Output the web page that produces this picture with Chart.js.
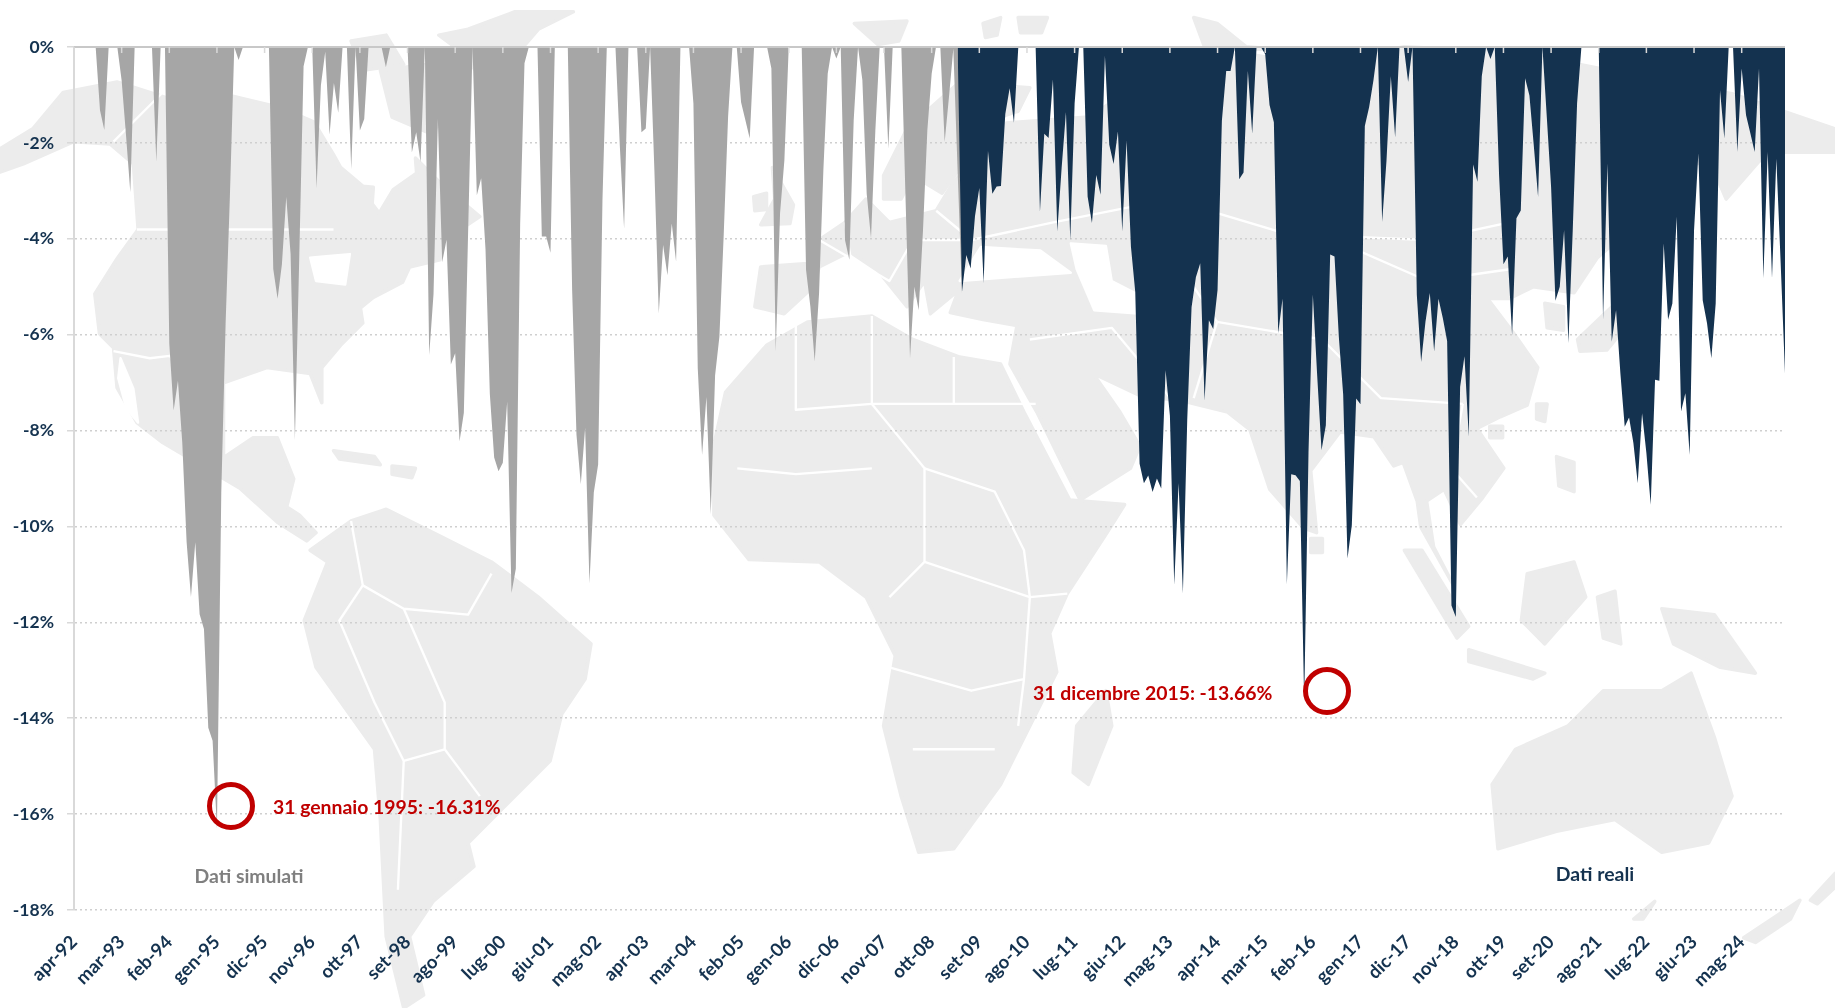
<!DOCTYPE html>
<html lang="it">
<head>
<meta charset="utf-8">
<title>Drawdown</title>
<script src="https://cdn.jsdelivr.net/npm/chart.js@4"></script>
<style>
    html, body { margin: 0; padding: 0; background: #fff; overflow: hidden; }
    #wrap { position: relative; width: 1835px; height: 1008px; }
    #map { position: absolute; left: 0; top: 0; width: 1835px; height: 1008px; }
    #chart { position: absolute; left: 0; top: 0; }
    #map .land { fill: #ececec; stroke: #ececec; stroke-width: 3; stroke-linejoin: round; }
    #map .sea { fill: #fff; stroke: #fff; stroke-width: 2; stroke-linejoin: round; }
    #map .border { fill: none; stroke: #fff; stroke-width: 2; stroke-linejoin: round; }
</style>
</head>
<body>
<div id="wrap">
    <!-- sfondo decorativo: mappa del mondo semplificata -->
    <svg id="map" viewBox="0 0 1568 861" preserveAspectRatio="none">
        <g class="land">
            <path class="land" d="M0,127 L28,110 L54,79 L100,70 L150,86 L190,80 L240,92 L268,104 L285,132 L291,143 L310,159 L319,160 L318,174 L324,182 L336,162 L356,148 L355,135 L378,158 L410,185 L395,195 L380,200 L376,222 L350,228 L344,241 L319,254 L308,263 L310,276 L291,295 L275,314 L275,344 L265,319 L228,314 L191,327 L191,391 L216,374 L237,374 L251,409 L245,433 L256,440 L270,455 L262,462 L237,446 L205,417 L139,378 L117,361 L100,331 L97,297 L85,285 L81,251 L100,221 L118,196 L114,140 L94,123 L63,121 L20,140 L0,147 Z"/>
            <path class="land" d="M300,445 L330,435 L370,455 L420,480 L460,510 L505,550 L500,580 L480,610 L470,650 L430,690 L400,720 L405,740 L370,770 L350,800 L362,850 L345,861 L330,800 L325,700 L320,640 L270,570 L260,530 L280,480 L265,470 Z"/>
            <path class="land" d="M610,380 L620,335 L655,295 L690,275 L745,270 L780,290 L820,305 L855,311 L875,352 L914,427 L961,431 L946,455 L912,507 L897,541 L903,574 L880,620 L855,670 L815,725 L785,728 L770,680 L755,620 L765,560 L740,510 L700,480 L640,478 L610,440 Z"/>
            <path class="land" d="M645,262 L650,228 L690,225 L700,205 L722,190 L740,170 L760,190 L800,180 L815,155 L830,140 L860,105 L930,100 L970,75 L1060,45 L1120,55 L1200,40 L1300,45 L1400,65 L1480,80 L1568,110 L1568,130 L1510,130 L1475,170 L1460,135 L1430,150 L1400,190 L1365,220 L1345,250 L1310,245 L1290,255 L1271,255 L1293,284 L1314,314 L1305,346 L1282,356 L1262,366 L1285,400 L1267,425 L1248,448 L1234,418 L1219,428 L1225,467 L1242,500 L1214,450 L1211,428 L1199,395 L1191,398 L1174,373 L1145,369 L1120,402 L1125,455 L1114,451 L1085,418 L1068,367 L1049,352 L1017,344 L972,337 L934,319 L957,352 L974,381 L966,400 L923,427 L908,397 L886,352 L863,311 L869,278 L840,273 L812,267 L819,248 L795,268 L790,240 L775,262 L750,231 L726,215 L700,228 L695,245 L670,268 Z"/>
            <path class="land" d="M755,150 L775,110 L820,70 L880,75 L870,95 L840,105 L830,130 L805,165 L780,150 L770,170 L755,170 Z"/>
            <path class="land" d="M660,143 L678,175 L675,191 L650,192 L662,170 Z"/>
            <path class="land" d="M644,168 L655,165 L655,179 L645,180 Z"/>
            <path class="land" d="M945,590 L950,620 L930,670 L917,660 L920,620 Z"/>
            <path class="land" d="M1275,670 L1295,640 L1340,620 L1370,590 L1420,590 L1445,575 L1465,630 L1480,680 L1460,720 L1420,728 L1380,700 L1330,710 L1280,725 Z"/>
            <path class="land" d="M1200,470 L1215,470 L1255,535 L1245,545 Z"/>
            <path class="land" d="M1255,555 L1320,575 L1310,580 L1255,565 Z"/>
            <path class="land" d="M1305,490 L1345,480 L1355,510 L1320,550 L1300,530 Z"/>
            <path class="land" d="M1365,510 L1380,505 L1385,550 L1370,545 Z"/>
            <path class="land" d="M1420,520 L1465,525 L1500,575 L1470,570 L1430,550 Z"/>
            <path class="land" d="M1330,390 L1345,395 L1345,420 L1332,415 Z"/>
            <path class="land" d="M1320,259 L1336,262 L1336,282 L1322,280 Z"/>
            <path class="land" d="M1348,290 L1390,250 L1400,205 L1412,205 L1405,260 L1373,299 L1350,300 Z"/>
            <path class="land" d="M1313,345 L1322,345 L1320,360 L1313,358 Z"/>
            <path class="land" d="M1273,364 L1284,364 L1284,374 L1273,374 Z"/>
            <path class="land" d="M1120,460 L1130,460 L1130,472 L1120,472 Z"/>
            <path class="land" d="M1396,785 L1414,770 L1404,785 Z"/>
            <path class="land" d="M1490,801 L1538,769 L1530,785 L1500,805 Z"/>
            <path class="land" d="M1547,769 L1568,746 L1568,758 L1553,772 Z"/>
            <path class="land" d="M325,60 L365,55 L385,85 L370,115 L335,100 Z"/>
            <path class="land" d="M300,35 L330,30 L345,55 L310,60 Z"/>
            <path class="land" d="M375,30 L400,25 L440,10 L490,10 L460,25 L430,60 L410,65 L395,45 Z"/>
            <path class="land" d="M730,20 L775,18 L768,35 L750,38 Z"/>
            <path class="land" d="M840,20 L855,15 L852,30 L842,32 Z"/>
            <path class="land" d="M870,15 L895,15 L890,28 L872,28 Z"/>
            <path class="land" d="M1020,15 L1040,20 L1065,40 L1090,42 L1030,42 Z"/>
            <path class="land" d="M285,385 L320,390 L325,397 L290,392 Z"/>
            <path class="land" d="M335,398 L355,400 L352,408 L335,405 Z"/>
        </g>
        <path class="sea" d="M103,306 L114,332 L118,361 L108,349 L101,323 Z"/>
        <path class="sea" d="M265,220 L299,217 L295,243 L270,240 Z"/>
        <path class="sea" d="M820,240 L838,211 L889,214 L915,233 Z"/>
        <path class="sea" d="M915,208 L945,210 L950,240 L985,258 L975,268 L935,265 L920,230 Z"/>
        <g class="border">
            <path class="border" d="M117,196 L285,196"/>
            <path class="border" d="M97,121 L139,79"/>
            <path class="border" d="M97,300 L128,306 L145,304 L165,330"/>
            <path class="border" d="M300,445 L310,500 L345,520 L400,525 L420,490"/>
            <path class="border" d="M310,500 L290,530 L320,600 L345,650 L340,760"/>
            <path class="border" d="M345,520 L380,600 L380,640 L410,680"/>
            <path class="border" d="M380,640 L345,650"/>
            <path class="border" d="M680,275 L680,350 L745,345 L815,345 L815,305"/>
            <path class="border" d="M745,270 L745,345 L790,400 L790,480 L760,510"/>
            <path class="border" d="M815,345 L885,345"/>
            <path class="border" d="M790,480 L880,510 L912,507"/>
            <path class="border" d="M630,400 L680,405 L745,400"/>
            <path class="border" d="M880,510 L875,580 L870,620"/>
            <path class="border" d="M790,400 L850,420 L875,470 L880,510"/>
            <path class="border" d="M760,570 L830,590 L875,580"/>
            <path class="border" d="M780,640 L850,640"/>
            <path class="border" d="M700,205 L760,240 L780,205 L830,205"/>
            <path class="border" d="M722,190 L730,240"/>
            <path class="border" d="M800,180 L830,205 L900,190 L1000,170 L1100,200 L1220,205 L1290,190"/>
            <path class="border" d="M1000,170 L1010,230 L1040,275"/>
            <path class="border" d="M1040,275 L1020,340"/>
            <path class="border" d="M880,290 L950,280 L1000,340"/>
            <path class="border" d="M1040,275 L1130,290 L1180,340 L1250,345"/>
            <path class="border" d="M1250,345 L1240,400 L1262,425"/>
            <path class="border" d="M1140,205 L1220,240 L1290,230"/>
        </g>
    </svg>
    <canvas id="chart" width="1835" height="1008"></canvas>
</div>
<script>
    const monthNames = ['gen', 'feb', 'mar', 'apr', 'mag', 'giu', 'lug', 'ago', 'set', 'ott', 'nov', 'dic'];

    const tickLabels = [
        'apr-92', 'mar-93', 'feb-94', 'gen-95', 'dic-95', 'nov-96', 'ott-97', 'set-98', 'ago-99', 'lug-00',
        'giu-01', 'mag-02', 'apr-03', 'mar-04', 'feb-05', 'gen-06', 'dic-06', 'nov-07', 'ott-08', 'set-09',
        'ago-10', 'lug-11', 'giu-12', 'mag-13', 'apr-14', 'mar-15', 'feb-16', 'gen-17', 'dic-17', 'nov-18',
        'ott-19', 'set-20', 'ago-21', 'lug-22', 'giu-23', 'mag-24'
    ];

    const yTicks = [0, -2, -4, -6, -8, -10, -12, -14, -16, -18];

    // apr-92 .. apr-09
    const datiSimulati = [
        0, 0, 0, 0, 0, 0, -1.32, -1.73, 0, 0,
        0, -0.7, -1.83, -3.03, 0, 0, 0, 0, 0, -2.4,
        0, 0, -6.19, -7.58, -6.96, -8.26, -10.33, -11.47, -10.33, -11.83,
        -12.14, -14.2, -14.47, -16.31, -9.3, -5.77, -3.08, 0, -0.27, 0,
        0, 0, 0, 0, 0, 0, -4.63, -5.25, -4.53, -3.13,
        -4.32, -8.2, -4.4, -0.4, 0, 0, -2.95, -0.8, -0.1, -1.83,
        -0.75, -1.37, 0, 0, -2.55, 0, -1.74, -1.5, 0, 0,
        0, 0, -0.42, 0, 0, 0, 0, 0, -2.2, -1.78,
        -2.4, 0, -6.43, -5.15, -1.5, -4.49, -4.02, -6.62, -6.39, -8.23,
        -7.63, -3.8, 0, -3.09, -2.74, -4.22, -7.24, -8.56, -8.85, -8.67,
        -7.4, -11.39, -10.88, -3.7, -0.34, 0, 0, 0, -3.95, -3.95,
        -4.29, 0, 0, 0, 0, -5.07, -8.09, -9.12, -7.94, -11.19,
        -9.29, -8.71, -3.2, 0, 0, 0, -2.05, -3.79, 0, 0,
        0, -1.78, -1.7, 0, -2.6, -5.56, -4.13, -4.76, -3.68, -4.48,
        0, 0, 0, -1.18, -6.7, -8.51, -7.3, -9.75, -6.85, -6.04,
        -3.9, -1.46, 0, 0, -1.15, -1.53, -1.91, 0, 0, 0,
        0, -0.45, -6.35, -3.47, -2.36, 0, 0, 0, 0, -4.65,
        -5.42, -6.56, -5.14, -2.57, -0.56, 0, -0.24, 0, -4.03, -4.44,
        -1.53, 0, -0.69, -3.06, -3.99, -1.74, 0, 0, -2.12, 0,
        0, 0, -3.26, -6.49, -5, -5.49, -3.82, -1.74, -0.56, 0,
        0, -1.98, -1.04, -0.03, -2.6, -5.14
    ];

    // apr-09 .. mar-25
    const datiReali = [
        0, -5.11, -4.34, -4.62, -3.53, -2.94,
        -4.93, -2.17, -3.06, -2.91, -2.9, -1.4, -0.86, -1.58, 0, 0,
        0, 0, 0, -3.44, -1.81, -1.9, -0.68, -3.85, -2.53, -1.36,
        -4.03, -1.18, 0, 0, -3.12, -3.67, -2.67, -3.08, -0.18, -2.04,
        -2.44, -1.76, -3.85, -1.95, -4.16, -5.11, -8.69, -9.1, -8.94, -9.28,
        -9, -9.21, -6.74, -7.69, -11.22, -9.1, -11.4, -7.78, -5.43, -4.8,
        -4.51, -7.38, -5.7, -5.88, -5.07, -1.54, -0.5, -0.5, 0, -2.76,
        -2.62, -0.5, -1.81, 0, 0, -0.15, -1.21, -1.57, -5.97, -5.25,
        -11.21, -8.91, -8.93, -9.05, -13.66, -8.45, -5.17, -6.85, -8.41, -7.89,
        -4.33, -4.37, -6.05, -7.25, -10.67, -9.97, -7.33, -7.45, -1.65, -1.25,
        -0.69, 0, -3.65, -2.37, -0.61, -1.89, 0, 0, -0.73, 0,
        -5.17, -6.57, -5.73, -5.13, -6.35, -5.25, -5.65, -6.13, -11.65, -11.89,
        -7.09, -6.45, -8.13, -2.45, -2.81, -0.61, 0, -0.25, 0, -2.69,
        -4.53, -4.37, -6.01, -3.57, -3.41, -0.65, -1.01, -2.05, -3.13, 0,
        -1.45, -2.92, -5.29, -5, -3.82, -6.18, -3.82, -1.18, 0, 0,
        0, 0, 0, -5.69, -2.43, -6.15, -5.49, -6.81, -7.92, -7.73,
        -8.26, -9.1, -7.64, -8.47, -9.55, -6.94, -6.96, -4.1, -5.69, -5.35,
        -3.54, -7.6, -7.22, -8.51, -3.82, -2.22, -5.28, -5.76, -6.49, -5.35,
        -0.9, -1.91, 0, 0, -2.19, -0.45, -1.42, -1.8, -2.19, -0.45,
        -4.83, -2.19, -4.83, -2.33, -4.51, -6.81
    ];

    const NAVY = '#14324f';
    const GREY = '#a6a6a6';
    const RED = '#c00000';
    const FONT = 'Lato, Carlito, sans-serif';

    const realStart = datiSimulati.length - 2;
    const total = realStart + datiReali.length;

    const categories = [];
    for (let i = 0; i < total; i++) {
        const m = (3 + i) % 12;
        const yy = (1992 + Math.floor((3 + i) / 12)) % 100;
        categories.push(monthNames[m] + '-' + String(yy).padStart(2, '0'));
    }

    const simSeries = datiSimulati.concat(new Array(total - datiSimulati.length).fill(null));
    const realSeries = new Array(realStart).fill(null).concat(datiReali);

    // asse dello 0%, tacche ogni 11 mesi, cerchi ed etichette
    const overlay = {
        id: 'overlay',
        afterDatasetsDraw(chart) {
            const { ctx, scales: { x, y } } = chart;
            const y0 = y.getPixelForValue(0);
            ctx.save();
            ctx.strokeStyle = '#c8c8c8';
            ctx.lineWidth = 2;
            ctx.beginPath();
            ctx.moveTo(x.left, y0);
            ctx.lineTo(x.right, y0);
            ctx.stroke();
            ctx.strokeStyle = '#d9d9d9';
            ctx.lineWidth = 1.5;
            tickLabels.forEach(function (t, i) {
                const px = x.getPixelForValue(i * 11);
                ctx.beginPath();
                ctx.moveTo(px, y0);
                ctx.lineTo(px, y0 + 6);
                ctx.stroke();
            });

            ctx.strokeStyle = RED;
            ctx.lineWidth = 5;
            [[231, 806], [1327, 691]].forEach(function (c) {
                ctx.beginPath();
                ctx.arc(c[0], c[1], 21.5, 0, Math.PI * 2);
                ctx.stroke();
            });

            ctx.textBaseline = 'middle';
            ctx.font = 'bold 19.4px ' + FONT;
            ctx.fillStyle = RED;
            ctx.textAlign = 'left';
            ctx.fillText('31 gennaio 1995: -16.31%', 273, 808);
            ctx.fillText('31 dicembre 2015: -13.66%', 1033, 694);
            ctx.textAlign = 'center';
            ctx.fillStyle = '#7f7f7f';
            ctx.fillText('Dati simulati', 249, 877);
            ctx.fillStyle = NAVY;
            ctx.fillText('Dati reali', 1595, 875);
            ctx.restore();
        }
    };

    new Chart(document.getElementById('chart'), {
        type: 'line',
        data: {
            labels: categories,
            datasets: [
                {
                    label: 'Dati reali',
                    data: realSeries,
                    backgroundColor: NAVY,
                    borderWidth: 0,
                    pointRadius: 0,
                    tension: 0,
                    fill: 'origin',
                    order: 1
                },
                {
                    label: 'Dati simulati',
                    data: simSeries,
                    backgroundColor: GREY,
                    borderWidth: 0,
                    pointRadius: 0,
                    tension: 0,
                    fill: 'origin',
                    order: 2
                }
            ]
        },
        options: {
            responsive: false,
            animation: false,
            layout: { padding: { top: 47, right: 50, left: 0, bottom: 0 } },
            plugins: { legend: { display: false }, tooltip: { enabled: false } },
            scales: {
                x: {
                    type: 'category',
                    offset: false,
                    border: { display: false },
                    grid: { display: false, drawTicks: false },
                    afterFit: function (s) { s.height = 98; },
                    ticks: {
                        autoSkip: false,
                        minRotation: 45,
                        maxRotation: 45,
                        padding: 21,
                        color: NAVY,
                        font: { family: FONT, size: 18.5, weight: 'bold' },
                        callback: function (v, i) {
                            return i % 11 === 0 ? tickLabels[i / 11] : '';
                        }
                    }
                },
                y: {
                    min: -18,
                    max: 0,
                    afterFit: function (s) { s.width = 74; },
                    afterBuildTicks: function (s) {
                        s.ticks = yTicks.map(function (v) { return { value: v }; });
                    },
                    border: { display: true, color: '#d9d9d9', width: 2, dash: [2, 3] },
                    grid: {
                        color: '#cfcfcf',
                        lineWidth: 1.5,
                        tickColor: '#d9d9d9',
                        tickBorderDash: [],
                        tickLength: 7
                    },
                    ticks: {
                        padding: 13,
                        color: NAVY,
                        font: { family: FONT, size: 17.5, weight: 'bold' },
                        callback: function (v) { return v + '%'; }
                    }
                }
            }
        },
        plugins: [overlay]
    });
</script>
</body>
</html>
